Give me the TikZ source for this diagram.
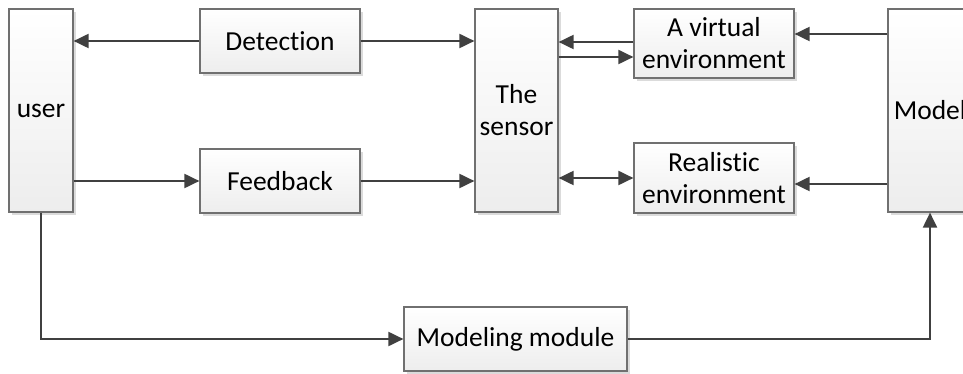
\documentclass[tikz,border=0pt]{standalone}
\usepackage{fontspec}
\setmainfont{Carlito}[Ligatures=NoCommon]
\usetikzlibrary{arrows.meta,shadows}
\definecolor{linec}{HTML}{404040}
\definecolor{boxc}{HTML}{707070}
\begin{document}
\begin{tikzpicture}[x=1pt,y=-1pt,
  blk/.style={draw=boxc,line width=1.2pt,top color=white,bottom color=black!7,
    drop shadow={shadow xshift=3pt,shadow yshift=-3pt,fill=black!14,opacity=1},
    align=center,inner sep=0pt,font=\fontsize{27.5}{32}\selectfont},
  conn/.style={draw=linec,line width=2pt,-{Triangle[length=15pt,width=14pt]}},
  dconn/.style={draw=linec,line width=2pt,{Triangle[length=15pt,width=14pt]}-{Triangle[length=15pt,width=14pt]}}]
\useasboundingbox (0,0) rectangle (963,374);
\node[blk,minimum width=64pt,minimum height=203pt] (user) at (41,110.5) {user};
\node[blk,minimum width=160pt,minimum height=64pt] (det) at (280,41) {Detection};
\node[blk,minimum width=160pt,minimum height=64pt] (fb) at (280,181) {Feedback};
\node[blk,minimum width=83pt,minimum height=203pt] (sen) at (516.5,110.5) {The\\sensor};
\node[blk,minimum width=160pt,minimum height=69pt] (vir) at (714,43.5) {A virtual\\environment};
\node[blk,minimum width=160pt,minimum height=70pt] (rea) at (714,178) {Realistic\\environment};
\node[blk,minimum width=84pt,minimum height=203pt] (mod) at (930,110.5) {Model};
\node[blk,minimum width=223pt,minimum height=64pt] (mm) at (515.5,339) {Modeling module};
% connectors
\draw[conn] (det.west) -- (det.west -| user.east);
\draw[conn] (user.east |- fb.west) -- (fb.west);
\draw[conn] (det.east) -- (det.east -| sen.west);
\draw[conn] (fb.east) -- (fb.east -| sen.west);
\coordinate (v1) at ([yshift=1.5pt]vir.west);
\draw[conn] (v1) -- (v1 -| sen.east);
\coordinate (v2) at ([yshift=-13.5pt]vir.west);
\draw[conn] (v2 -| sen.east) -- (v2);
\draw[dconn] (rea.west -| sen.east) -- (rea.west);
\coordinate (m1) at ([yshift=9.5pt]vir.east);
\draw[conn] (m1 -| mod.west) -- (m1);
\coordinate (m2) at ([yshift=-6pt]rea.east);
\draw[conn] (m2 -| mod.west) -- (m2);
\draw[conn] (user.south) |- (mm.west);
\draw[conn] (mm.east) -| (mod.south);
\end{tikzpicture}
\end{document}
